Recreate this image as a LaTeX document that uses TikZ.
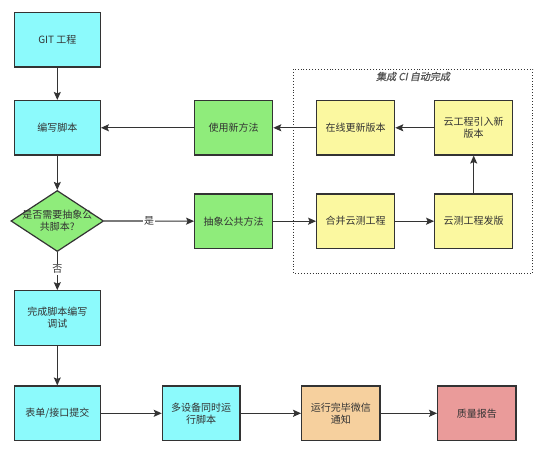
\documentclass[tikz,border=0pt]{standalone}
\usepackage{fontspec}
\setmainfont{Noto Sans CJK SC}
\newfontfamily\titlefont[FakeSlant=0.2,FakeBold=0.6]{Noto Sans CJK SC}
\usetikzlibrary{shapes.geometric,arrows.meta}
\definecolor{txt}{HTML}{333333}
\definecolor{cyanbox}{HTML}{8CFAFC}
\definecolor{greenbox}{HTML}{8FEC7B}
\definecolor{yellowbox}{HTML}{FBF8A0}
\definecolor{orangebox}{HTML}{F6D09E}
\definecolor{redbox}{HTML}{EA9B9A}
\tikzset{
  base/.style={draw=txt, line width=1.2pt, text=txt, font=\fontsize{10}{12}\selectfont, align=center, inner sep=0pt},
  cbox/.style={base, fill=cyanbox, minimum width=86pt, minimum height=54.5pt},
  gbox/.style={base, fill=greenbox, minimum width=78pt, minimum height=54.3pt},
  ybox/.style={base, fill=yellowbox, minimum width=78pt, minimum height=54.3pt},
  obox/.style={base, fill=orangebox, minimum width=78.3pt, minimum height=54.5pt},
  rbox/.style={base, fill=redbox, minimum width=78.3pt, minimum height=54.5pt},
  smallc/.style={base, fill=cyanbox, minimum width=77.7pt, minimum height=54.5pt},
  dia/.style={base, diamond, fill=greenbox, aspect=1.52, minimum width=92.7pt, minimum height=61pt, inner sep=0pt},
  conn/.style={draw=txt, line width=1.2pt, -{Stealth[length=8pt,width=7pt,inset=1.5pt]}},
  lbl/.style={fill=white, text=txt, font=\fontsize{10}{12}\selectfont, inner sep=1pt}
}
\begin{document}
\begin{tikzpicture}[x=1pt,y=-1pt]
\useasboundingbox (0,0) rectangle (550,454);
\fill[white] (0,0) rectangle (550,454);
% dotted group
\draw[txt, dotted, line width=0.9pt] (293.3,69.3) rectangle (532.7,273.3);
\node[text=txt!85, font=\titlefont\fontsize{10}{12}\selectfont] (title) at (413,76.5) {集成 CI 自动完成};
% nodes
\node[cbox] (git) at (57.3,39.7) {GIT 工程};
\node[cbox] (bx) at (57.3,127.8) {编写脚本};
\node[dia] (q) at (57.3,221) {};
\node[text=txt, font=\fontsize{10}{12}\selectfont, align=center] (qt) at (q.center) {是否需要抽象公\\共脚本?};
\node[cbox] (wc) at (57.3,318) {完成脚本编写\\调试};
\node[cbox] (bd) at (57.3,413.3) {表单/接口提交};
\node[smallc] (dsb) at (201.2,413.3) {多设备同时运\\行脚本};
\node[obox] (yx) at (340.8,413.3) {运行完毕微信\\通知};
\node[rbox] (zl) at (476.8,413.3) {质量报告};
\node[gbox] (sy) at (233.7,127.8) {使用新方法};
\node[gbox] (cx) at (233.7,221.2) {抽象公共方法};
\node[ybox] (zx) at (355.7,127.8) {在线更新版本};
\node[ybox] (yg) at (473.7,127.8) {云工程引入新\\版本};
\node[ybox] (hb) at (355.7,221.2) {合并云测工程};
\node[ybox] (yc) at (473.7,221.2) {云测工程发版};
% connectors
\draw[conn] (git) -- (bx);
\draw[conn] (bx) -- (q);
\draw[conn] (q) -- node[lbl, pos=0.5] (yes) {是} (cx);
\draw[conn] (q) -- node[lbl, pos=0.45] (no) {否} (wc);
\draw[conn] (wc) -- (bd);
\draw[conn] (bd) -- (dsb);
\draw[conn] (dsb) -- (yx);
\draw[conn] (yx) -- (zl);
\draw[conn] (cx) -- (hb);
\draw[conn] (hb) -- (yc);
\draw[conn] (yc) -- (yg);
\draw[conn] (yg) -- (zx);
\draw[conn] (zx) -- (sy);
\draw[conn] (sy) -- (bx);
\end{tikzpicture}
\end{document}
